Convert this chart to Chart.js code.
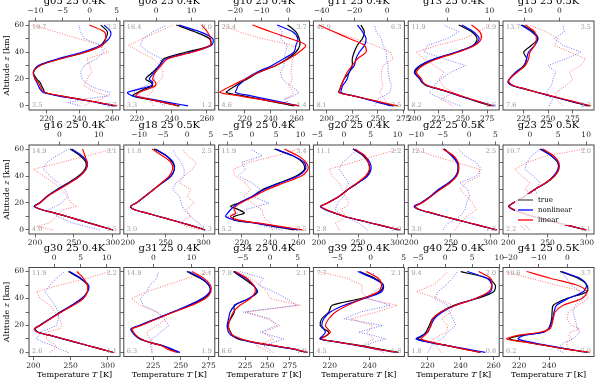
<!DOCTYPE html>
<html>
<head>
<meta charset="utf-8">
<script src="https://cdn.jsdelivr.net/npm/chart.js@4.4.0/dist/chart.umd.min.js"></script>
<style>
  html, body { margin: 0; padding: 0; background: #fff; }
  #wrap { position: relative; width: 598px; height: 381px; overflow: hidden; }
  #wrap canvas { position: absolute; left: 0; top: 0; }
</style>
</head>
<body>
<div id="wrap"></div>
<script>
// altitude levels (km) shared by every profile
const altitudes = [0, 2.5, 5, 7.5, 10, 12.5, 15, 17.5, 20, 25, 30, 35, 40, 45, 50, 55, 60];

// T = true, N = nonlinear (blue), L = linear (red), dN / dL = differences (top axis, dotted)
const g05T = [262, 252, 240, 228, 219, 218, 217, 216, 214, 212, 216, 228, 244, 253, 256, 257, 253];
const g05N = [261, 251, 239, 227, 218, 216, 215, 214, 213, 212, 215, 227, 242, 253, 258, 259, 255];
const g05L = [263, 252, 240, 229, 219, 217, 216, 215, 213, 212, 216, 229, 244, 254, 256, 255, 246];
const g05dN = [-1.7, -4, -1, 3.5, 3.8, 1.5, 0.1, -0.8, -1.4, -1.7, -1, 1.3, 2.6, 2, -1, -1.7, -2];
const g05dL = [-1, 0, 2, 3.2, 1.3, 0, -1, -0.8, -0.5, 0.4, 0, -0.5, 3.5, 2, -2.1, -6.3, -10.4];

const g08T = [244.4, 235.8, 226.1, 217.5, 220.4, 224.2, 229, 228, 225, 229, 232.9, 235.2, 248.3, 262.1, 261.3, 253, 242.5];
const g08N = [249.2, 238.7, 228.1, 217.5, 214.6, 221.3, 228.1, 229, 227.1, 230, 232.9, 236.7, 251, 262.7, 263.3, 256, 244];
const g08L = [243.5, 235.8, 227.1, 219.4, 221.3, 226.1, 230.6, 230.6, 229, 230.6, 233.9, 237.7, 252.1, 262, 262.1, 260.2, 257];
const g08dN = [2.5, 1.1, -1.7, -4.5, -6.4, -5.5, -2.6, -1.7, -0.3, -1.2, 0.65, 1.6, -2.2, -4.5, -3.6, -0.8, 3];
const g08dL = [-0.8, -1.2, -2.2, -2.6, -1.2, -0.8, -0.3, 0.4, 1.6, 2.05, 1.1, -0.8, -4.5, -7.8, -3.6, 0.65, 4.9];

const g10T = [258, 245, 232, 219, 206, 209, 213, 217, 222, 231, 244, 253, 259.5, 262.5, 262, 259.5, 253];
const g10N = [262, 250, 237, 225, 213, 214, 215, 218, 220.5, 229.5, 241, 250, 258, 259.5, 261, 257, 245];
const g10L = [262, 247, 231, 216, 201, 205, 210, 215, 220.5, 231, 244, 254, 262, 267, 255, 240, 226];
const g10dN = [0.3, -0.5, -1.6, 2, 4, 2.5, 1, -1, -2.3, -2.9, -1.6, -1.6, -1, -0.4, -2.9, -2.3, -4.2];
const g10dL = [1, 0, -1, 1, 2, 1, 0, 1, 1.5, 1, 1.3, 1.5, 4, 1.5, -10, -18.7, -24.4];

const g11T = [266, 253, 240, 226, 212, 213, 214, 215.5, 217, 222, 225, 225, 227, 230, 235, 236.8, 233.5];
const g11N = [263, 251, 239, 226, 214, 214.5, 215.5, 218, 220, 222, 227, 228.6, 232, 237, 238.5, 235, 230];
const g11L = [269.7, 255, 241, 226, 212, 213, 214, 215.5, 217, 220, 225, 230, 238.5, 236.8, 222, 207, 192.4];
const g11dN = [-7.6, -6.5, -5.6, -2, 1.6, 2.2, 2.7, 2, 1.6, 0.6, 0.6, -0.4, -0.4, -2.5, -3.5, -6.6, -7.6];
const g11dL = [0.6, -0.5, -1.4, -3, -4.5, -3.5, -2.5, -3, -3.5, -3.5, -2.5, 3.7, 2, -7.6, -20, -32, -41.6];

const g13T = [279, 268, 257.5, 247, 237.5, 225, 212.4, 208, 205.7, 200.7, 207.4, 222.4, 244, 260.8, 264.7, 259, 245.8];
const g13N = [282.6, 270, 257.5, 246.5, 235.8, 225, 214, 208, 205.7, 200, 205.7, 220.7, 243.4, 261.5, 266.9, 260.8, 249];
const g13L = [281, 270, 259, 248, 237.5, 226, 214, 209, 207.4, 202.3, 209, 224, 245.8, 262.5, 269, 267.5, 259];
const g13dN = [3.1, 1, -0.8, -3, -4.3, -3.5, -3.1, -2.5, -1.6, 0.8, 4.3, -0.8, -5.5, -4.7, 0, 2.7, -0.8];
const g13dL = [1.2, 0, -1.6, 0, 1.6, 0, -1.2, -1.5, -2, -0.8, -3.1, -5.5, -7.4, -2.3, 3.9, 7.4, 10];

const g15T = [291, 278, 265, 252, 239.5, 226.5, 213.7, 209, 210.5, 217, 225, 228, 225, 233, 239.5, 234.7, 223.4];
const g15N = [292.6, 279, 265, 252, 239, 226.5, 214, 209, 210.5, 217, 226, 228, 230, 236.3, 239.5, 233, 222];
const g15L = [294, 280.5, 267, 253, 239.5, 227, 215, 210, 210.5, 218.5, 226.6, 230, 231.5, 236.3, 238, 236.3, 226.6];
const g15dN = [-2.9, -2.5, -1.9, -3, -3.8, -3, -2.4, -2, -1.9, -1, -3.3, 1.9, 6.2, 1, -1.4, 1.4, 1];
const g15dL = [1, 0, -1, -1, -1, 0.5, 1.9, 3, 3.8, 2.9, 6.2, 7.6, 2.9, -1.4, -0.5, -3.8, -8.6];

const g16T = [300, 286, 272, 256, 241, 226, 209, 199, 206.3, 215.6, 228.3, 243, 255.7, 264, 265.4, 257.8, 245];
const g16N = [300, 285, 269.6, 255, 241, 226, 209, 199, 205.5, 215.6, 229, 244, 257, 265.4, 267, 260, 247];
const g16L = [300, 285, 270.5, 256, 241, 226, 209, 200, 206.3, 216.5, 230.4, 245, 257.8, 265.4, 267, 264, 261];
const g16dN = [10.3, 6.9, 3.6, 1.5, -0.3, -1.5, -2.8, -1, 0.6, 2.3, 1.4, -0.3, -2.4, -4, -3.2, -0.7, 2.3];
const g16dL = [-1.5, -5.8, -2.8, -1.5, -0.7, 0, 1, 4.4, 3.1, 1.9, 0.6, -1.5, -4, -6.6, 0.3, 7.1, 13.7];

const g18T = [302, 288, 273, 257, 241, 225, 209, 203.6, 211, 222.7, 234, 245.5, 257, 261.4, 259, 250.5, 234.5];
const g18N = [302, 288, 273, 257, 241, 225, 209, 203.6, 211, 222.7, 234, 245.5, 257, 261.4, 260, 251, 236.4];
const g18L = [302, 288, 273, 257, 241, 225, 209, 204, 211, 222.7, 234, 244.5, 254.5, 259, 257, 245.5, 232];
const g18dN = [3.2, 3, 2.6, 1.5, 0.8, 0, -0.6, -1, -1.2, -1.6, -3, -2.3, -0.6, -0.6, -1.2, -2.3, -3];
const g18dL = [2.6, 0, -1.6, -0.5, 0.8, 0.3, -0.2, 0.6, 1.5, 0.1, 0.8, -1.6, -0.6, 1.2, 1.9, 0.1, -0.9];

const g19T = [257, 243, 230, 214, 214.5, 221.7, 218, 212, 218, 227.6, 234.7, 246.5, 258.4, 264.3, 263, 256, 243];
const g19N = [259.6, 245, 230, 215, 208.6, 210, 212, 214.5, 218, 227.6, 236, 247.7, 259.6, 265, 264.3, 256, 244];
const g19L = [263, 248, 232.3, 217, 212, 215.7, 214.5, 215.7, 219.3, 228.8, 238, 250, 262, 266.7, 265.5, 259.6, 250];
const g19dN = [6.2, 3, 0.7, -2.5, -4.9, -3, -1.4, 1, 3.5, 0, 1.7, 0, -2.8, -1.4, -2.1, 2.1, -0.3];
const g19dL = [4.2, 4, 3.8, 3, 2.4, 2.2, 2.1, 1, 0, -1.7, -0.3, -1.4, -3.5, -3.8, -0.7, 4.9, 9.7];

const g20T = [302, 285, 267, 250, 232.6, 220, 208.7, 202, 211, 226, 237, 250, 261, 265, 263, 256.5, 243.5];
const g20N = [302, 285, 267, 250, 232.6, 220, 208.7, 202, 211, 226, 237, 250, 262, 266.5, 265, 257.8, 243.5];
const g20L = [304, 286, 268, 251, 233.5, 221, 210, 203, 211, 226, 237, 249, 259.6, 264.3, 263, 258.7, 245.7];
const g20dN = [4.4, 3.6, 2.8, 1.5, 0.3, -0.8, -1.6, -1.4, -1.2, 0, 0.3, 0.9, 0, -0.9, -0.3, 1.2, 2.5];
const g20dL = [-0.9, -1.2, -1.6, -0.5, 0.3, 0, -0.6, 0.5, 0.9, 0.3, -0.3, -0.9, -2.2, -2.8, 1.6, 5.9, 10.3];

const g22T = [308, 291.5, 275, 258, 241.7, 226, 210.4, 204, 212.5, 225, 235.4, 248, 256, 259, 258.3, 252, 241.7];
const g22N = [307, 291, 274, 257.5, 241, 225.5, 210.4, 203.5, 211.7, 224, 234, 247, 256.3, 259.2, 257.5, 250.8, 240.8];
const g22L = [308, 291.5, 275, 258, 241.7, 226.5, 211.3, 205, 213.3, 225, 236.7, 249.2, 257.5, 260, 259.2, 253.3, 239.6];
const g22dN = [-4.9, -4.5, -3.9, -2.8, -1.75, -1.2, -0.8, -0.6, -0.5, 0.1, -0.2, -1.75, 1.4, 2.3, 1.4, -0.8, -2];
const g22dL = [-2.7, -2.2, -1.75, -1, -0.5, 0.5, 1.4, 1, 0.75, -0.5, -1.75, -0.5, 2, 2, -2.4, -6.75, -10.5];

const g23T = [298.7, 282, 265, 248, 231.5, 218.5, 206.3, 200.5, 206.3, 221, 233.6, 248.3, 258.8, 264, 263, 254.6, 242];
const g23N = [298.7, 282, 265, 248, 231.5, 218.5, 206.3, 200.5, 206.3, 221, 233.6, 247.9, 257.6, 263, 263, 254.6, 240];
const g23L = [299.6, 282.5, 265, 248, 231.5, 218.5, 208, 201, 206.3, 221, 233.6, 247.5, 258.8, 264.3, 264.3, 257.6, 244];
const g23dN = [0, -0.6, -1.2, -1.8, -2.1, -1.2, -0.6, 0, 0.6, 1.5, 0.9, 1.8, 0.6, -0.9, -0.6, 0.3, 1.8];
const g23dL = [-0.9, -1.5, -1.8, -1, -0.6, 0.2, 0.9, 0.5, 0.3, 1.2, -0.9, 0, -1.5, -2.7, -0.6, 3, 9.8];

const g30T = [307.6, 291, 274, 257, 240, 224, 206.7, 202, 209, 222.4, 236, 251.6, 265, 272.6, 272.6, 262.8, 247];
const g30N = [307.6, 291, 274, 257, 240, 223.5, 205.8, 201.5, 208, 222.4, 236.8, 251.6, 265, 273, 274, 263.7, 248.4];
const g30L = [307.6, 291, 274, 258, 241.3, 224, 205.4, 201, 209, 223.3, 238, 253.8, 267.3, 272.6, 272.6, 267.3, 258.3];
const g30dN = [2.7, 1, -0.2, -2, -3.4, -3, -2.7, -1, 0.4, 0.8, 0.8, 0.1, -0.8, -1.8, -0.8, 0.4, 2];
const g30dL = [-0.8, 0, 0.4, -0.5, -1.5, -1.5, -1.5, 1.1, 1.4, 1.1, 0.1, -0.8, -2.7, -3.4, 1.1, 6.2, 10.6];

const g31T = [247.7, 241, 234, 222, 213, 209, 206.8, 205.3, 213, 228, 243, 258.3, 270.5, 276.5, 275, 267.4, 255.3];
const g31N = [249.2, 242, 233.5, 222, 213.8, 209, 206.2, 205, 212.3, 227.4, 242.6, 256.8, 269, 275.9, 275, 268.3, 256.8];
const g31L = [246.2, 238, 232.6, 222, 214.4, 210, 207.4, 206, 214.4, 228.6, 243.8, 259.8, 272, 277, 276.5, 270.5, 259.8];
const g31dN = [-0.4, -0.6, -0.9, -0.6, -0.4, 0.8, 1.8, 3, 4, 2.7, 0.9, -2.7, -3.5, -1.8, -0.9, 0.9, 1.3];
const g31dL = [-0.4, -0.4, -0.4, -0.6, -0.9, -1.5, -1.8, -0.5, 0.9, 3.5, 0.9, -3.5, -5.8, -1.8, 3.5, 8.8, 15];

const g34T = [294, 279, 256, 234, 217, 211, 209, 207, 205.5, 209, 213, 213, 229.6, 238.9, 233.3, 223, 212];
const g34N = [294, 279, 256, 234, 219.4, 210, 206.6, 205.5, 205, 206.6, 208.4, 214, 229, 238, 234.4, 225.6, 212.6];
const g34L = [295, 280, 258, 236, 221, 212, 208.4, 207, 206.6, 208.4, 212, 219.4, 231, 236.3, 234.4, 227, 214];
const g34dN = [0.6, -0.3, -1.2, 0.6, 2.5, 0.3, -1.8, -0.3, 1.2, 0, -4.9, 4.9, 3, 0.6, -2.1, -1.2, -5.5];
const g34dL = [0, -1.2, -2.5, -1, 0.6, -0.3, -1.2, 0.3, 1.8, -0.6, -4.3, 5.5, 0, -0.6, -1.8, -3.7, -6.1];

const g39T = [254.5, 245, 235.7, 225, 215.2, 218.5, 219.5, 217, 215.2, 216, 219.5, 221.2, 235.7, 245, 246.8, 242.6, 234.9];
const g39N = [252.8, 243.5, 234, 224.5, 215.2, 216.5, 217.8, 217, 216, 217, 220.3, 227.2, 237.4, 246, 246.8, 241.7, 234];
const g39L = [253.7, 244, 234.9, 225, 216, 218, 220.3, 219, 217.8, 219.5, 222.9, 229, 236.6, 244.3, 246, 244.3, 238.3];
const g39dN = [3.5, 1, -1, 0.5, 2.3, 0.5, -1.8, 0, 1.8, -4, -1.5, 3, -0.5, 0.5, 2, 0.3, 0.5];
const g39dL = [2, 0.5, -1.3, -0.5, 0.5, 0, -0.5, 0, 0.3, -3, 1, 4, -0.5, -1.3, -1.3, -3.5, -7.8];

const g40T = [252, 242, 232, 222, 214, 217, 219, 220, 221, 223, 228, 236, 250, 260, 261, 256, 240];
const g40N = [255, 244, 232, 221, 213, 216.5, 220, 221, 222, 224, 229, 237, 249, 258, 259, 256, 244];
const g40L = [252, 242, 232, 223, 216, 218, 220, 221, 222, 223, 228, 237, 249, 257, 259, 258, 251];
const g40dN = [-3.2, -2.8, -2.5, -1.5, -0.7, 0, 0.5, 1.2, 2, 1.4, 0.8, 0.5, -1.9, -1.3, 0.2, 1.4, 2.3];
const g40dL = [-0.7, -1.2, -1.6, -2, -2.2, -1, 0.2, 0.4, 0.5, -0.7, 1.1, 1.4, -1.3, -5.3, -2.2, -0.7, 0.5];

const g41T = [265.5, 251.7, 238.3, 226, 213.4, 220.6, 236.1, 239.5, 240.6, 241.7, 242, 242.8, 251.7, 265.3, 265.3, 259.3, 247.3];
const g41N = [265.5, 252.8, 239.5, 228.4, 219.4, 222.8, 236.1, 239.5, 241, 242.4, 243.3, 245, 252.8, 262.8, 265, 260.6, 248.4];
const g41L = [267.3, 251.7, 238.3, 225, 211.7, 218.4, 233.9, 240.6, 241.7, 242.8, 244, 249.5, 261.8, 265.3, 258.4, 240.6, 225];
const g41dN = [-1.5, -3.8, -2.6, -0.9, 1.9, 3.2, 4.3, 3.5, 3.2, 2.6, 1.9, 2.6, 5.5, 4.3, 1.4, -0.3, -2];
const g41dL = [2, 1, -0.2, -0.2, 1.4, 0.5, 0.8, 4.3, 1.4, -0.2, 0.3, 3.7, 7.2, 6, -3.8, -13, -21.7];

const altTicks = [0, 10, 20, 30, 40, 50, 60];

// one entry per panel, row by row
const panels = [
  { title: "g05 25 0.4K", t: [209.3, 264.7], tTicks: [220, 240, 260], d: [-11.2, 5.6], dTicks: [-10, -5, 0, 5], corner: ["10.7", "2.2", "3.5", "0.7"], T: g05T, N: g05N, L: g05L, dN: g05dN, dL: g05dL },
  { title: "g08 25 0.4K", t: [212.5, 264.5], tTicks: [220, 240, 260], d: [-9.1, 16.6], dTicks: [0, 10], corner: ["16.4", "3.0", "3.3", "1.2"], T: g08T, N: g08N, L: g08L, dN: g08dN, dL: g08dL },
  { title: "g10 25 0.4K", t: [200, 270], tTicks: [220, 240, 260], d: [-26.2, 8], dTicks: [-20, -10, 0], corner: ["23.4", "3.7", "4.6", "1.4"], T: g10T, N: g10N, L: g10L, dN: g10dN, dL: g10dL },
  { title: "g11 25 0.4K", t: [187, 276], tTicks: [200, 225, 250, 275], d: [-45, 10.6], dTicks: [-40, -20, 0], corner: ["40.9", "6.3", "8.1", "2.5"], T: g11T, N: g11N, L: g11L, dN: g11dN, dL: g11dL },
  { title: "g13 25 0.4K", t: [193.7, 287.5], tTicks: [200, 225, 250, 275], d: [-9.3, 12.3], dTicks: [0, 10], corner: ["11.9", "3.9", "8.2", "2.6"], T: g13T, N: g13N, L: g13L, dN: g13dN, dL: g13dL },
  { title: "g15 25 0.5K", t: [203.8, 297], tTicks: [225, 250, 275], d: [-16.3, 10], dTicks: [-10, 0], corner: ["13.7", "3.5", "7.6", "2.3"], T: g15T, N: g15N, L: g15L, dN: g15dN, dL: g15dL },

  { title: "g16 25 0.4K", t: [192.3, 309], tTicks: [200, 250, 300], d: [-7.7, 15.4], dTicks: [0, 10], corner: ["14.9", "3.1", "4.0", "1.5"], T: g16T, N: g16N, L: g16L, dN: g16dN, dL: g16dL },
  { title: "g18 25 0.5K", t: [194.7, 314.7], tTicks: [200, 250, 300], d: [-13.2, 5.8], dTicks: [-10, -5, 0, 5], corner: ["11.8", "2.5", "3.0", "1.3"], T: g18T, N: g18N, L: g18L, dN: g18dN, dL: g18dL },
  { title: "g19 25 0.4K", t: [203.6, 267.9], tTicks: [220, 240, 260], d: [-6.9, 11.9], dTicks: [-5, 0, 5, 10], corner: ["11.9", "3.4", "5.2", "2.5"], T: g19T, N: g19N, L: g19L, dN: g19dN, dL: g19dL },
  { title: "g20 25 0.4K", t: [193, 309], tTicks: [200, 250, 300], d: [-5.7, 11.3], dTicks: [-5, 0, 5, 10], corner: ["11.1", "2.2", "2.8", "1.0"], T: g20T, N: g20N, L: g20L, dN: g20dN, dL: g20dL },
  { title: "g22 25 0.5K", t: [196, 311], tTicks: [200, 250, 300], d: [-11.5, 5.7], dTicks: [-10, -5, 0, 5], corner: ["12.1", "2.5", "3.0", "1.3"], T: g22T, N: g22N, L: g22L, dN: g22dN, dL: g22dL },
  { title: "g23 25 0.5K", t: [193.3, 309], tTicks: [200, 250, 300], d: [-4.8, 11.4], dTicks: [0, 5, 10], corner: ["10.7", "2.0", "2.2", "1.1"], T: g23T, N: g23N, L: g23L, dN: g23dN, dL: g23dL, legend: true },

  { title: "g30 25 0.4K", t: [194, 316.5], tTicks: [200, 250, 300], d: [-4.8, 12.5], dTicks: [0, 5, 10], corner: ["11.9", "2.2", "2.6", "1.1"], T: g30T, N: g30N, L: g30L, dN: g30dN, dL: g30dL },
  { title: "g31 25 0.4K", t: [198.6, 280.5], tTicks: [225, 250, 275], d: [-7.8, 16.1], dTicks: [0, 10], corner: ["14.9", "2.1", "6.3", "1.9"], T: g31T, N: g31N, L: g31L, dN: g31dN, dL: g31dL },
  { title: "g34 25 0.4K", t: [195.5, 297], tTicks: [225, 250, 275], d: [-9.4, 7.2], dTicks: [-5, 0, 5], corner: ["7.8", "2.1", "6.6", "1.9"], T: g34T, N: g34N, L: g34L, dN: g34dN, dL: g34dL },
  { title: "g39 25 0.4K", t: [211.8, 257.4], tTicks: [220, 240], d: [-8.6, 5.1], dTicks: [-5, 0, 5], corner: ["7.7", "2.1", "4.5", "1.8"], T: g39T, N: g39N, L: g39L, dN: g39dN, dL: g39dL },
  { title: "g40 25 0.4K", t: [208.2, 263.4], tTicks: [220, 240, 260], d: [-6.8, 10], dTicks: [-5, 0, 5, 10], corner: ["9.4", "2.0", "1.8", "0.8"], T: g40T, N: g40N, L: g40L, dN: g40dN, dL: g40dL },
  { title: "g41 25 0.5K", t: [209.2, 270], tTicks: [220, 240], d: [-22.4, 9.2], dTicks: [-20, -10, 0], corner: ["19.6", "3.7", "6.2", "2.0"], T: g41T, N: g41N, L: g41L, dN: g41dN, dL: g41dL }
];

// page layout
const W = 598, H = 381;
const colLeft = [29, 123.8, 218.6, 313.4, 408.2, 503];
const rowTop = [21, 145, 267.5];
const PW = 91, PH = 89;
const Y_AXIS_W = 29, TOP_AXIS_H = 21, BOT_AXIS_H = 25;
const SERIF = "'DejaVu Serif', serif";
const INK = "#222";

function pts(vals) {
  return vals.map((v, i) => ({ x: v, y: altitudes[i] }));
}

function fixTicks(values) {
  return (scale) => {
    scale.ticks = values
      .filter((v) => v >= scale.min && v <= scale.max)
      .map((v) => ({ value: v }));
  };
}

function fmt(v) {
  return v < 0 ? "\u2212" + Math.abs(v) : String(v);
}

// text with italic pieces, centred on x
function drawMixed(ctx, parts, x, y, size) {
  let total = 0;
  parts.forEach(([s, it]) => {
    ctx.font = (it ? "italic " : "") + size + "px " + SERIF;
    total += ctx.measureText(s).width;
  });
  let cx = x - total / 2;
  ctx.textAlign = "left";
  parts.forEach(([s, it]) => {
    ctx.font = (it ? "italic " : "") + size + "px " + SERIF;
    ctx.fillText(s, cx, y);
    cx += ctx.measureText(s).width;
  });
}

function decoPlugin(p, row, col) {
  return {
    id: "deco",
    afterDraw(chart) {
      const ctx = chart.ctx;
      const { left, top, right, bottom } = chart.chartArea;
      ctx.save();

      // frame
      ctx.strokeStyle = "#444";
      ctx.lineWidth = 1;
      ctx.strokeRect(left, top, right - left, bottom - top);

      // corner numbers
      ctx.fillStyle = "#999";
      ctx.font = "6.5px " + SERIF;
      ctx.textBaseline = "middle";
      ctx.textAlign = "left";
      ctx.fillText(p.corner[0], left + 3, top + 6);
      ctx.fillText(p.corner[2], left + 3, bottom - 5);
      ctx.textAlign = "right";
      ctx.fillText(p.corner[1], right - 3, top + 6);
      ctx.fillText(p.corner[3], right - 3, bottom - 5);

      // panel title
      ctx.fillStyle = "#000";
      ctx.textBaseline = "alphabetic";
      ctx.textAlign = "center";
      ctx.font = "10px " + SERIF;
      ctx.fillText(p.title, (left + right) / 2, top - 17);

      // axis labels
      if (row === 2) {
        drawMixed(ctx, [["Temperature ", false], ["T", true], [" [K]", false]], (left + right) / 2, 377, 8);
      }
      if (col === 0) {
        ctx.save();
        ctx.translate(9, (top + bottom) / 2);
        ctx.rotate(-Math.PI / 2);
        drawMixed(ctx, [["Altitude ", false], ["z", true], [" [km]", false]], 0, 0, 8);
        ctx.restore();
      }

      // legend (only one panel carries it)
      if (p.legend) {
        const lx = left + 15, ly = top + 55;
        ctx.fillStyle = "rgba(255,255,255,0.8)";
        ctx.fillRect(lx - 3, ly - 6, 56, 31);
        const items = [["true", "#555"], ["nonlinear", "#0000ff"], ["linear", "#ff0000"]];
        ctx.font = "7px " + SERIF;
        ctx.textAlign = "left";
        ctx.textBaseline = "middle";
        items.forEach(([lab, c], i) => {
          const yy = ly + i * 10;
          ctx.strokeStyle = c;
          ctx.lineWidth = 1.3;
          ctx.beginPath();
          ctx.moveTo(lx, yy);
          ctx.lineTo(lx + 15, yy);
          ctx.stroke();
          ctx.fillStyle = "#000";
          ctx.fillText(lab, lx + 20, yy);
        });
      }
      ctx.restore();
    }
  };
}

const wrap = document.getElementById("wrap");

panels.forEach((p, idx) => {
  const row = Math.floor(idx / 6);
  const col = idx % 6;
  const cv = document.createElement("canvas");
  cv.width = W;
  cv.height = H;
  wrap.appendChild(cv);

  const solid = (vals, color) => ({
    data: pts(vals), xAxisID: "x", yAxisID: "y", showLine: true,
    borderColor: color, borderWidth: 1.2, pointRadius: 0, tension: 0.3, fill: false
  });
  const dotted = (vals, color) => ({
    data: pts(vals), xAxisID: "x2", yAxisID: "y", showLine: true,
    borderColor: color, borderWidth: 1, borderDash: [1, 1.5], pointRadius: 0, tension: 0, fill: false
  });

  const tickFont = { family: SERIF, size: 7.5 };
  const gridOpts = { drawOnChartArea: false, drawTicks: true, tickLength: 3.5, tickColor: "#444", lineWidth: 0.8 };

  new Chart(cv, {
    type: "scatter",
    data: {
      // first dataset is drawn on top
      datasets: [
        solid(p.L, "#ff0000"),
        solid(p.N, "#0000ff"),
        solid(p.T, "#000000"),
        dotted(p.dL, "rgba(255,0,0,0.55)"),
        dotted(p.dN, "rgba(0,0,255,0.55)")
      ]
    },
    options: {
      responsive: false,
      animation: false,
      events: [],
      layout: {
        padding: {
          left: colLeft[col] - Y_AXIS_W,
          top: rowTop[row] - TOP_AXIS_H,
          right: W - colLeft[col] - PW,
          bottom: H - rowTop[row] - PH - BOT_AXIS_H
        }
      },
      plugins: { legend: { display: false }, tooltip: { enabled: false } },
      scales: {
        x: {
          type: "linear", position: "bottom", min: p.t[0], max: p.t[1],
          afterBuildTicks: fixTicks(p.tTicks),
          afterFit: (s) => { s.height = BOT_AXIS_H; },
          grid: gridOpts, border: { display: false },
          ticks: { font: tickFont, color: INK, padding: 1.5, maxRotation: 0, autoSkip: false, callback: fmt }
        },
        x2: {
          type: "linear", position: "top", min: p.d[0], max: p.d[1],
          afterBuildTicks: fixTicks(p.dTicks),
          afterFit: (s) => { s.height = TOP_AXIS_H; },
          grid: gridOpts, border: { display: false },
          ticks: { font: tickFont, color: INK, padding: 1.5, maxRotation: 0, autoSkip: false, callback: fmt }
        },
        y: {
          type: "linear", position: "left", min: -3, max: 63,
          afterBuildTicks: fixTicks(altTicks),
          afterFit: (s) => { s.width = Y_AXIS_W; },
          grid: gridOpts, border: { display: false },
          ticks: {
            font: tickFont, color: INK, padding: 1.5, autoSkip: false,
            callback: (v) => (col === 0 && v % 20 === 0 ? String(v) : "")
          }
        }
      }
    },
    plugins: [decoPlugin(p, row, col)]
  });
});
</script>
</body>
</html>
